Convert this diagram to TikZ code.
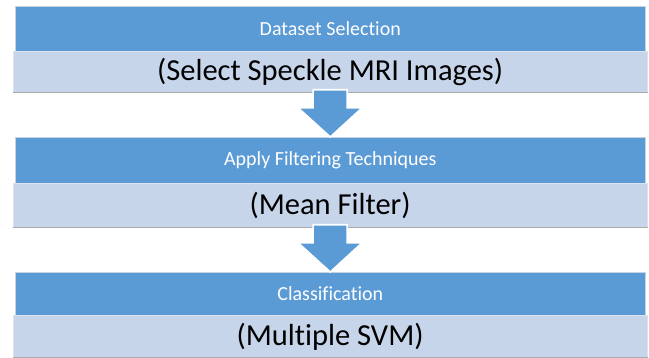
\documentclass[tikz,border=0pt]{standalone}
\usepackage{fontspec}
\setmainfont[Ligatures=NoCommon]{Carlito}
\usetikzlibrary{calc}
\definecolor{dkblue}{HTML}{5B9BD5}
\definecolor{ltblue}{HTML}{C7D5EB}
\definecolor{ltedge}{HTML}{DCE3EE}
\definecolor{botedge}{HTML}{ABABAB}
\definecolor{dkedge}{HTML}{C9D3E0}
\begin{document}
\begin{tikzpicture}[x=1pt,y=-1pt,
  darkbox/.style={rectangle, fill=dkblue, draw=dkedge, line width=0.6pt, anchor=north west,
    minimum width=630pt, minimum height=45pt, inner sep=0pt, text=white,
    font=\fontsize{20}{24}\selectfont},
  lightbox/.style={rectangle, fill=ltblue, draw=ltedge, line width=0.8pt, anchor=north west,
    minimum width=634pt, minimum height=41pt, inner sep=0pt, text=black,
    font=\fontsize{30.5}{34}\selectfont},
  blockarrow/.style={fill=dkblue, draw=white, line width=1.6pt, line join=miter},
  bottomline/.style={draw=botedge, line width=0.8pt}]
\useasboundingbox (0,0) rectangle (649,358);
% stage 1
\node[darkbox] (d1) at (15,6) {Dataset Selection};
\node[lightbox] (l1) at (12.7,51) {(Select Speckle MRI Images)};
\draw[bottomline] (l1.south west) -- (l1.south east);
% stage 2
\node[darkbox, minimum height=46pt] (d2) at (15,137) {Apply Filtering Techniques};
\node[lightbox, minimum height=44pt] (l2) at (12.7,183) {(Mean Filter)};
\draw[bottomline] (l2.south west) -- (l2.south east);
% stage 3
\node[darkbox, minimum height=43pt] (d3) at (15,272) {Classification};
\node[lightbox, minimum height=42pt] (l3) at (12.7,315) {(Multiple SVM)};
\draw[bottomline] (l3.south west) -- (l3.south east);
% arrows
\draw[blockarrow] ($(l1.south)+(-17,-3)$) -- ($(l1.south)+(-17,15)$) -- ($(l1.south)+(-32,15)$)
  -- (d2.north) -- ($(l1.south)+(32,15)$) -- ($(l1.south)+(17,15)$) -- ($(l1.south)+(17,-3)$) -- cycle;
\draw[blockarrow] ($(l2.south)+(-17,-3)$) -- ($(l2.south)+(-17,15)$) -- ($(l2.south)+(-32,15)$)
  -- (d3.north) -- ($(l2.south)+(32,15)$) -- ($(l2.south)+(17,15)$) -- ($(l2.south)+(17,-3)$) -- cycle;
\end{tikzpicture}
\end{document}
